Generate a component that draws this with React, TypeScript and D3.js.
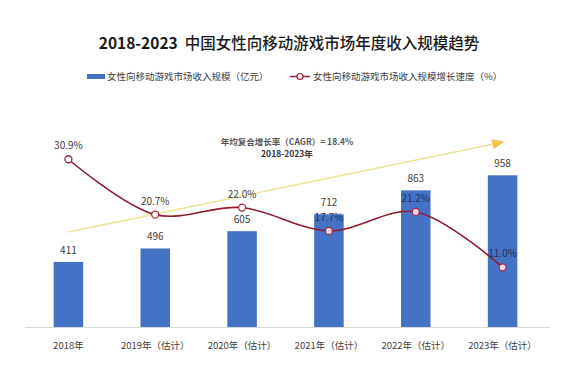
import * as d3 from 'd3';

const years = ['2018年', '2019年（估计）', '2020年（估计）', '2021年（估计）', '2022年（估计）', '2023年（估计）'];
const revenue = [411, 496, 605, 712, 863, 958];
const growth = [30.9, 20.7, 22.0, 17.7, 21.2, 11.0];
const legendLabels = ['女性向移动游戏市场收入规模（亿元）', '女性向移动游戏市场收入规模增长速度（%）'];
const cagrLines = ['年均复合增长率（CAGR）= 18.4%', '2018-2023年'];
// arrow annotation in data terms: [category index, revenue value]
const cagrArrow: [number, number][] = [[0, 600], [5.02, 1170]];

const width = 581;
const height = 367;
const font = '"Noto Sans CJK SC", "Noto Sans", sans-serif';

export default function App() {
  const plotTop = 137;
  const plotBottom = 327;

  const x = d3.scaleBand<string>().domain(years).range([25, 546]).paddingInner(0.66).paddingOuter(0.33);
  const yBar = d3.scaleLinear().domain([0, 1200]).range([plotBottom, plotTop]);
  const yLine = d3.scaleLinear().domain([0, 35]).range([plotBottom, plotTop]);
  const cx = (i: number) => (x(years[0]) as number) + x.bandwidth() / 2 + i * x.step();

  const line = d3
    .line<number>()
    .x((_, i) => cx(i))
    .y((d) => yLine(d))
    .curve(d3.curveCatmullRom.alpha(0.5));

  const [a0, a1] = cagrArrow;
  const ax0 = cx(a0[0]);
  const ay0 = yBar(a0[1]);
  const ax1 = cx(a1[0]);
  const ay1 = yBar(a1[1]);
  const ang = Math.atan2(ay1 - ay0, ax1 - ax0);
  const headLen = 12;
  const headW = 5;
  const bx = ax1 - headLen * Math.cos(ang);
  const by = ay1 - headLen * Math.sin(ang);
  const head = [
    [ax1, ay1],
    [bx + headW * Math.sin(ang), by - headW * Math.cos(ang)],
    [bx - headW * Math.sin(ang), by + headW * Math.cos(ang)],
  ]
    .map((p) => p.join(','))
    .join(' ');

  return (
    <svg width={width} height={height} style={{ position: 'absolute', left: 0, top: 0, background: '#fff' }} fontFamily={font}>
      <text x={289} y={49} textAnchor="middle" fontSize={15.5} fill="#1a1a1a">
        <tspan fontWeight="bold">2018-2023</tspan>
        <tspan dx={7} fontWeight={500}>{'中国女性向移动游戏市场年度收入规模趋势'}</tspan>
      </text>

      {/* legend */}
      <rect x={87} y={74} width={18} height={5} fill="#4472c4" />
      <text x={107} y={80} fontSize={9.5} fill="#404040">
        {legendLabels[0]}
      </text>
      <line x1={290} x2={310} y1={76.5} y2={76.5} stroke="#9b1c31" strokeWidth={1.5} />
      <circle cx={300} cy={76.5} r={3} fill="#fff" stroke="#9b1c31" strokeWidth={1.2} />
      <text x={313} y={80} fontSize={9.5} fill="#404040">
        {legendLabels[1]}
      </text>

      {/* bars */}
      {revenue.map((v, i) => (
        <g key={years[i]}>
          <rect x={x(years[i])} y={yBar(v)} width={x.bandwidth()} height={plotBottom - yBar(v)} fill="#4472c4" />
          <text x={cx(i)} y={yBar(v) - 8} textAnchor="middle" fontSize={10} fill="#404040">
            {v}
          </text>
        </g>
      ))}

      <line x1={25} x2={550} y1={plotBottom + 0.5} y2={plotBottom + 0.5} stroke="#d9d9d9" />
      {years.map((yr, i) => (
        <text key={yr} x={cx(i)} y={349} textAnchor="middle" fontSize={9.5} fill="#404040">
          {yr}
        </text>
      ))}

      {/* CAGR arrow */}
      <line x1={ax0} y1={ay0} x2={bx} y2={by} stroke="#ece58f" strokeWidth={1.5} />
      <polygon points={head} fill="#f3c14a" />
      <text x={287} y={145} textAnchor="middle" fontSize={8.5} fontWeight="bold" fill="#555">
        {cagrLines[0]}
      </text>
      <text x={287} y={157} textAnchor="middle" fontSize={8.5} fontWeight="bold" fill="#333">
        {cagrLines[1]}
      </text>

      {/* growth line */}
      <path d={line(growth) ?? ''} fill="none" stroke="#8e1b2e" strokeWidth={1.6} />
      {growth.map((g, i) => {
        const py = yLine(g);
        const onBar = py - 10 > yBar(revenue[i]);
        return (
          <g key={'g' + i}>
            <circle cx={cx(i)} cy={py} r={3.5} fill={onBar ? '#f6d9f0' : '#fff'} stroke="#a0283c" strokeWidth={1.3} />
            <text x={cx(i)} y={py - 10} textAnchor="middle" fontSize={10} fill={onBar ? '#1c2f5e' : '#404040'}>
              {g.toFixed(1)}%
            </text>
          </g>
        );
      })}
    </svg>
  );
}
